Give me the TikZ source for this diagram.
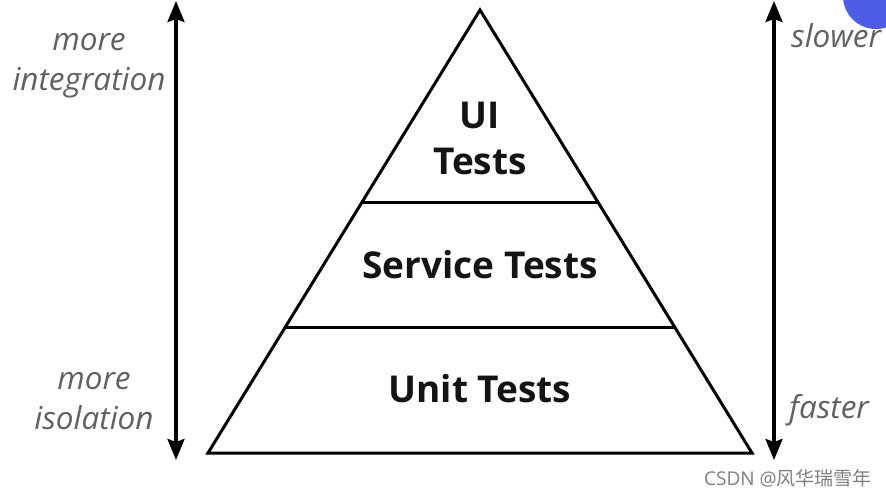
\documentclass[tikz,border=0pt]{standalone}
\usepackage{fontspec,tikz}
\usetikzlibrary{arrows.meta}
\setmainfont{Open Sans}
\newfontfamily\cjkfont{Noto Sans CJK SC}
\definecolor{dotblue}{RGB}{76,94,232}
\definecolor{labelink}{RGB}{20,20,20}

\tikzset{
  layerline/.style={line width=3pt,line join=miter},
  axisarrow/.style={line width=3.4pt,{Stealth[length=21pt,width=17pt,inset=3pt]}-{Stealth[length=21pt,width=17pt,inset=3pt]}},
  sidelabel/.style={inner sep=0pt,text=black!62,font=\fontsize{31.5}{40}\selectfont\itshape,align=center},
  layerlabel/.style={inner sep=0pt,text=labelink,font=\fontsize{37}{46}\selectfont\bfseries,align=center},
}

\begin{document}
\begin{tikzpicture}[x=1pt,y=-1pt]
\path[use as bounding box,fill=white] (0,0) rectangle (886,496);

% pyramid
\coordinate (apex) at (480,10);
\coordinate (baseL) at (208,453);
\coordinate (baseR) at (752,453);
\coordinate (cutAL) at (363,202);
\coordinate (cutAR) at (597,202);
\coordinate (cutBL) at (286,327);
\coordinate (cutBR) at (674,327);
\draw[layerline] (apex) -- (baseR) -- (baseL) -- cycle;
\draw[layerline] (cutAL) -- (cutAR);
\draw[layerline] (cutBL) -- (cutBR);

\node[layerlabel] (ui) at (480,138) {UI\\Tests};
\node[layerlabel] (service) at (480,265) {Service Tests};
\node[layerlabel] (unit) at (480,389) {Unit Tests};

% left axis
\coordinate (intTop) at (176,1);
\coordinate (isoBot) at (176,460);
\draw[axisarrow] (intTop) -- (isoBot);
\node[sidelabel] (integration) at (89,66) {more\\integration};
\node[sidelabel] (isolation) at (94,401) {more\\isolation};

% right axis
\coordinate (slowTop) at (774,1);
\coordinate (fastBot) at (774,460);
\draw[axisarrow] (slowTop) -- (fastBot);
\node[sidelabel,anchor=west] (slower) at (791,36) {slower};
\node[sidelabel,anchor=west] (faster) at (789,410) {faster};

% screen marks
\begin{scope}
\clip (0,0) rectangle (886,496);
\fill[dotblue] (876,-4) circle (33);
\end{scope}
\node[anchor=east,inner sep=0pt,text=black!50,font=\fontsize{19}{22}\selectfont] (mark) at (872,478) {CSDN @{\cjkfont 风华瑞雪年}};
\end{tikzpicture}
\end{document}
